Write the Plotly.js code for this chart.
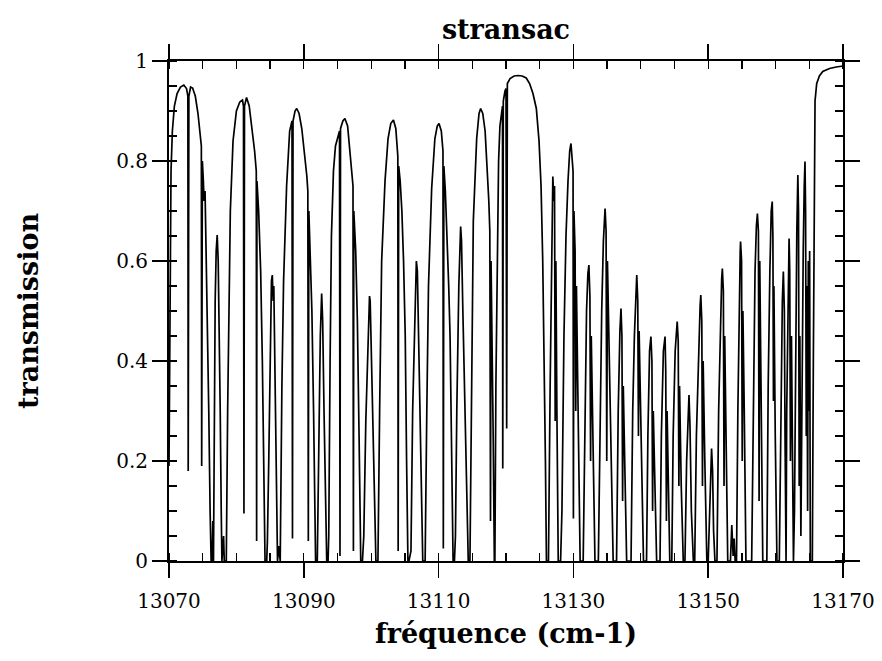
<!DOCTYPE html>
<html>
<head>
<meta charset="utf-8">
<script src="https://cdn.plot.ly/plotly-3.0.1.min.js"></script>
<style>html,body{margin:0;padding:0;background:#fff;}#chart{width:882px;height:661px;}</style>
</head>
<body>
<div id="chart"></div>
<script>
// Fringe region (13070 - 13126 cm-1): frequency / transmission
var fringeFreq = [
13070.0,13070.15,13070.3,13070.5,13070.8,13071.2,13071.7,13072.2,13072.6,13072.8,13072.85,13072.95,13073.2,13073.5,13073.9,13074.3,13074.7,13074.8,13074.85,13074.95,13075.1,13075.2,13075.35,13075.5,13075.7,13075.9,13076.1,13076.25,13076.4,13076.5,13076.6,13076.7,13076.85,13077.0,13077.15,13077.3,13077.45,13077.6,13077.75,13077.85,13078.1,13078.2,13078.4,
13078.5,13078.7,13078.9,13079.1,13079.5,13080.0,13080.5,13080.9,13081.05,13081.12,13081.2,13081.5,13081.9,13082.3,13082.7,13082.95,13083.0,13083.05,13083.3,13083.6,13083.85,13084.05,13084.25,13084.5,13084.6,13084.8,13085.0,13085.2,13085.33,13085.45,13085.55,13085.75,13085.95,13086.1,13086.3,
13086.5,13086.75,13087.0,13087.45,13087.9,13088.25,13088.32,13088.4,13088.7,13088.95,13089.3,13089.7,13090.1,13090.45,13090.6,13090.67,13090.75,13091.0,13091.2,13091.45,13091.75,13092.0,13092.2,13092.45,13092.65,13092.8,13093.0,13093.25,13093.4,13093.6,
13093.7,13093.9,13094.1,13094.4,13094.7,13095.3,13095.37,13095.45,13095.8,13096.1,13096.5,13096.9,13097.2,13097.3,13097.36,13097.42,13097.7,13097.95,13098.2,13098.45,13098.7,13098.9,13099.2,13099.5,13099.75,13099.85,13100.1,13100.4,13100.7,13100.95,
13101.0,13101.25,13101.55,13102.05,13102.5,13102.9,13103.3,13103.65,13103.95,13104.0,13104.08,13104.3,13104.55,13104.8,13105.05,13105.25,13105.45,13105.6,13105.9,13106.15,13106.45,13106.7,13106.85,13107.1,13107.4,13107.65,13107.9,
13108.0,13108.25,13108.5,13108.97,13109.45,13109.8,13110.06,13110.4,13110.65,13110.7,13110.78,13111.0,13111.25,13111.5,13111.7,13111.9,13112.15,13112.35,13112.5,13112.7,13113.0,13113.27,13113.4,13113.6,13113.9,13114.2,13114.4,
13114.65,13114.9,13115.15,13115.65,13116.0,13116.24,13116.55,13116.9,13117.2,13117.45,13117.6,13117.7,13117.78,13117.95,13118.1,13118.27,13118.35,13118.5,13118.7,13118.9,13119.1,13119.35,13119.48,13119.52,13119.6,13119.85,13120.0,13120.1,13120.2,13120.6,13121.2,13121.8,13122.4,13123.0,13123.5,13124.0,13124.5,13124.9,13125.2,13125.45,13125.7,13125.85,13126.0
];
var fringeTrans = [
0.19,0.62,0.78,0.86,0.91,0.935,0.948,0.952,0.945,0.93,0.18,0.93,0.948,0.946,0.93,0.895,0.85,0.83,0.19,0.80,0.76,0.72,0.74,0.64,0.5,0.3,0.1,0,0,0.08,0,0.33,0.52,0.62,0.652,0.6,0.48,0.3,0.1,0,0.05,0,0,
0,0.3,0.55,0.7,0.84,0.9,0.918,0.922,0.91,0.095,0.91,0.927,0.91,0.87,0.82,0.78,0.04,0.76,0.7,0.58,0.4,0.2,0,0,0.04,0.2,0.42,0.56,0.572,0.52,0.55,0.35,0.12,0,0.03,
0,0.35,0.56,0.75,0.86,0.88,0.045,0.88,0.9,0.905,0.895,0.865,0.82,0.77,0.74,0.04,0.7,0.6,0.5,0.3,0,0,0.2,0.45,0.535,0.48,0.3,0.08,0,0,
0.05,0.4,0.65,0.78,0.83,0.86,0.01,0.865,0.88,0.885,0.87,0.81,0.77,0.75,0.02,0.7,0.62,0.48,0.25,0,0,0.05,0.28,0.45,0.53,0.52,0.38,0.18,0,0,
0,0.3,0.6,0.76,0.845,0.875,0.882,0.865,0.81,0.02,0.79,0.76,0.7,0.6,0.45,0.2,0,0,0.02,0.3,0.5,0.6,0.58,0.42,0.2,0,0,
0,0.3,0.55,0.745,0.845,0.87,0.875,0.86,0.82,0.025,0.79,0.74,0.66,0.55,0.45,0.28,0,0,0.05,0.3,0.55,0.669,0.64,0.5,0.3,0.08,0,
0,0.4,0.68,0.845,0.895,0.905,0.895,0.86,0.79,0.72,0.66,0.08,0.6,0.45,0.25,0,0,0.35,0.65,0.8,0.87,0.9,0.91,0.185,0.92,0.94,0.945,0.265,0.955,0.965,0.97,0.971,0.97,0.966,0.955,0.935,0.905,0.84,0.75,0.6,0.4,0.2,0
];

// Dense absorption band region (13126 - 13170 cm-1)
var bandFreq = [
13126.3,13126.55,13126.8,13126.95,13127.1,13127.2,13127.3,13127.4,13127.55,13127.75,13128.1,
13128.3,13128.6,13128.9,13129.2,13129.45,13129.64,13129.8,13129.95,13130.0,13130.08,13130.25,13130.35,13130.45,13130.65,13130.85,13131.0,
13131.45,13131.7,13131.95,13132.15,13132.3,13132.45,13132.55,13132.65,13132.85,13133.05,13133.2,
13133.7,13133.95,13134.2,13134.45,13134.6,13134.7,13134.85,13134.95,13135.05,13135.25,13135.45,13135.6,13135.9,
13136.4,13136.65,13136.9,13137.06,13137.2,13137.3,13137.4,13137.65,13137.9,
13138.55,13138.8,13139.05,13139.3,13139.4,13139.55,13139.65,13139.75,13140.0,13140.2,13140.4,
13140.85,13141.05,13141.3,13141.5,13141.65,13141.75,13141.85,13142.1,13142.35,
13142.85,13143.05,13143.35,13143.6,13143.7,13143.8,13143.9,13144.1,13144.3,
13144.6,13144.8,13145.1,13145.4,13145.55,13145.65,13145.75,13146.0,13146.3,
13146.55,13146.8,13147.0,13147.15,13147.3,13147.5,13147.8,
13148.0,13148.25,13148.55,13148.8,13148.9,13149.05,13149.15,13149.25,13149.5,13149.8,
13150.0,13150.25,13150.5,13150.65,13150.8,13151.0,
13151.3,13151.55,13151.8,13152.0,13152.1,13152.25,13152.35,13152.45,13152.65,13152.9,
13153.3,13153.5,13153.7,13153.85,13154.0,
13154.2,13154.4,13154.6,13154.75,13154.8,13154.95,13155.05,13155.15,13155.35,13155.6,
13156.45,13156.7,13156.95,13157.15,13157.3,13157.45,13157.55,13157.65,13157.8,13157.95,13158.1,
13158.7,13158.9,13159.15,13159.35,13159.5,13159.6,13159.68,13159.75,13159.95,13160.2,
13160.55,13160.8,13161.0,13161.15,13161.3,13161.4,13161.55,13161.65,13161.8,13162.0,13162.1,13162.2,13162.35,13162.5,13162.65,
13162.8,13163.0,13163.15,13163.3,13163.4,13163.5,13163.6,13163.75,13163.9,13164.1,13164.25,13164.36,13164.45,13164.55,13164.65,13164.75,13164.85,13164.95,13165.05,13165.15,13165.3,
13165.45,13165.6,13165.75,13165.85,13166.1,13166.5,13167.0,13168.0,13169.0,13170.0
];
var bandTrans = [
0,0.35,0.68,0.769,0.72,0.75,0.28,0.6,0.3,0,0,
0.1,0.45,0.65,0.76,0.82,0.835,0.8,0.78,0.085,0.7,0.62,0.3,0.55,0.35,0.1,0,
0,0.3,0.5,0.575,0.592,0.53,0.2,0.45,0.3,0.08,0,
0,0.3,0.5,0.64,0.68,0.705,0.66,0.2,0.6,0.45,0.3,0.15,0,
0,0.3,0.46,0.505,0.45,0.12,0.35,0.15,0,
0,0.3,0.45,0.55,0.572,0.52,0.25,0.46,0.3,0.1,0,
0,0.25,0.42,0.449,0.4,0.1,0.3,0.15,0,
0,0.25,0.42,0.449,0.38,0.08,0.3,0.12,0,
0,0.25,0.42,0.479,0.44,0.15,0.35,0.15,0,
0,0.2,0.3,0.332,0.27,0.1,0,
0,0.25,0.42,0.51,0.532,0.48,0.15,0.4,0.2,0,
0,0.12,0.225,0.18,0.06,0,
0,0.3,0.48,0.565,0.585,0.54,0.15,0.45,0.25,0,
0,0.072,0.01,0.045,0,
0,0.3,0.55,0.62,0.639,0.6,0.2,0.5,0.3,0,
0,0.35,0.58,0.67,0.695,0.66,0.12,0.6,0.4,0.15,0,
0,0.35,0.58,0.7,0.719,0.65,0.32,0.55,0.25,0,
0,0.35,0.52,0.579,0.5,0.25,0,0.3,0.5,0.645,0.58,0.2,0.45,0.15,0,
0.1,0.45,0.66,0.772,0.7,0.15,0.45,0.05,0.4,0.62,0.75,0.799,0.7,0.25,0.55,0.1,0.6,0.3,0.62,0,0,
0,0.4,0.85,0.92,0.955,0.97,0.979,0.985,0.988,0.99
];

var xTickVals = [13070,13090,13110,13130,13150,13170];
var yTickVals = [0,0.2,0.4,0.6,0.8,1];
var yTickText = ['0','0.2','0.4','0.6','0.8','1'];

var freq = fringeFreq.concat(bandFreq);
var trans = fringeTrans.concat(bandTrans);

var serif = '"DejaVu Serif", "Liberation Serif", serif';

var trace = {
  x: freq, y: trans, type: 'scatter', mode: 'lines',
  line: {color: '#000', width: 1.7},
  hoverinfo: 'skip'
};

var axisCommon = {
  showline: true, linecolor: '#000', linewidth: 2, mirror: 'ticks',
  ticks: 'outside', ticklen: 15, tickwidth: 1.5, tickcolor: '#000',
  showgrid: false, zeroline: false,
  tickfont: {family: serif, size: 20, color: '#000'}
};

var layout = {
  width: 882, height: 661,
  margin: {l: 169, r: 39, t: 61, b: 100},
  paper_bgcolor: '#fff', plot_bgcolor: '#fff',
  showlegend: false,
  title: {text: '<b>stransac</b>', font: {family: serif, size: 27, color: '#000'},
          x: 0.5, xref: 'paper', y: 1 - 30/661, yref: 'container', yanchor: 'middle'},
  xaxis: Object.assign({}, axisCommon, {
    range: [13070, 13170], tickvals: xTickVals, ticktext: xTickVals.map(String),
    ticklabelstandoff: 6,
    minor: {dtick: 5, tick0: 13070, ticks: 'inside', ticklen: 8, tickwidth: 1.3, tickcolor: '#000'},
    title: {text: '<b>fréquence (cm-1)</b>', font: {family: serif, size: 27, color: '#000'}, standoff: 12}
  }),
  yaxis: Object.assign({}, axisCommon, {
    range: [0, 1], tickvals: yTickVals, ticktext: yTickText,
    minor: {dtick: 0.05, tick0: 0, ticks: 'inside', ticklen: 8, tickwidth: 1.3, tickcolor: '#000'},
    title: {text: '<b>transmission</b>', font: {family: serif, size: 27, color: '#000'}, standoff: 70}
  })
};

Plotly.newPlot('chart', [trace], layout, {staticPlot: true, displayModeBar: false});
</script>
</body>
</html>
